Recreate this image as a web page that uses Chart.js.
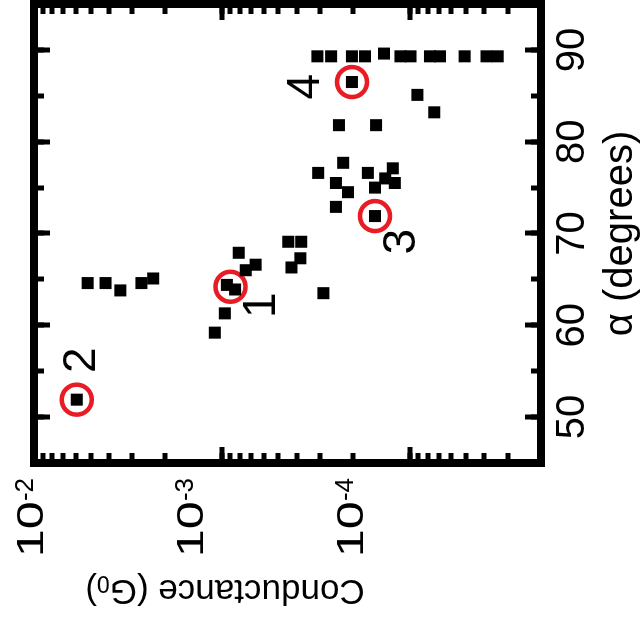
<!DOCTYPE html>
<html>
<head>
<meta charset="utf-8">
<script src="https://cdn.jsdelivr.net/npm/chart.js@4.4.1/dist/chart.umd.min.js"></script>
<style>
  html, body { margin: 0; padding: 0; background: #fff; }
  #stage { position: relative; width: 641px; height: 623px; overflow: hidden; background: #fff; }
  /* the plot is laid out with α along x and turned a quarter turn counter-clockwise */
  #turn { position: absolute; left: 9px; top: -9px; width: 623px; height: 641px;
          transform: rotate(-90deg); transform-origin: 50% 50%; }
  canvas { display: block; }
</style>
</head>
<body>
<div id="stage"><div id="turn"><canvas id="c" width="623" height="641"></canvas></div></div>
<script>
// Tilt angle α (degrees) and conductance (G0) of each junction
const alphaDeg = [
  89.3, 89.3, 89.3, 89.3, 89.6, 89.3, 89.3, 89.3, 89.3, 89.3, 89.3, 89.3,
  86.5, 85.1, 83.2, 81.8, 81.8,
  76.6, 77.7, 76.6, 77.1, 76.0, 75.5, 75.0, 75.5, 74.5, 72.9, 71.9,
  69.1, 69.1, 67.3, 66.3, 67.9, 66.6, 66.0, 64.4, 63.9, 63.5, 61.3, 59.2,
  64.6, 64.6, 63.8, 64.6, 65.1,
  51.9
];
const conductanceG0 = [
  3.10e-4, 2.62e-4, 2.03e-4, 1.73e-4, 1.37e-4, 1.12e-4, 9.9e-5, 7.8e-5, 6.9e-5, 5.1e-5, 3.9e-5, 3.4e-5,
  2.03e-4, 9.1e-5, 7.4e-5, 2.38e-4, 1.51e-4,
  3.07e-4, 2.26e-4, 1.67e-4, 1.23e-4, 1.35e-4, 1.20e-4, 1.53e-4, 2.47e-4, 2.13e-4, 2.47e-4, 1.53e-4,
  4.43e-4, 3.78e-4, 3.82e-4, 4.26e-4, 8.13e-4, 6.61e-4, 7.46e-4, 9.4e-4, 8.5e-4, 2.88e-4, 9.64e-4, 1.09e-3,
  5.18e-3, 4.16e-3, 3.47e-3, 2.68e-3, 2.32e-3,
  5.92e-3
];

// Highlighted junctions 1-4 (ringed) and where their numbers sit
const markedIds = ['1', '2', '3', '4'];
const markedAlpha = [64.2, 51.9, 71.9, 86.5];
const markedG = [9.0e-4, 5.92e-3, 1.53e-4, 2.03e-4];
const markLabelAlpha = [62.2, 56.2, 69.1, 86.0];
const markLabelG = [6.1e-4, 5.5e-3, 1.09e-4, 3.55e-4];

// Axis labelling
const alphaTickLabels = [50, 60, 70, 80, 90];
const conductanceTickLabels = [1e-2, 1e-3, 1e-4];

const FONT = "'Liberation Sans', Arial, Helvetica, sans-serif";
const BLACK = '#000';
const CLEAR = 'rgba(0,0,0,0)';
const RED = 'rgb(232, 28, 36)';
const A_MIN = 45, A_MAX = 95;
const G_MIN = 2e-5, G_MAX = 1e-2;

const isDecade = v => Math.abs(Math.log10(v) - Math.round(Math.log10(v))) < 1e-6;
// keep 1..9 x 10^n marks only (drop the 1.5 x 10^n marks)
const wholeSignificands = scale => {
  scale.ticks = scale.ticks.filter(t => {
    const m = t.value / Math.pow(10, Math.floor(Math.log10(t.value) + 1e-9));
    return Math.abs(m - Math.round(m)) < 1e-6;
  });
};
// fixed box sizes, no extra room for overhanging labels
const fixedSize = size => s => {
  if (s.isHorizontal()) s.height = size; else s.width = size;
  s.paddingLeft = s.paddingRight = s.paddingTop = s.paddingBottom = 0;
};

// inward tick marks on one side of the frame
function tickAxis(isLog, position, long, withBorder) {
  const cfg = {
    type: isLog ? 'logarithmic' : 'linear',
    position,
    min: isLog ? G_MIN : A_MIN,
    max: isLog ? G_MAX : A_MAX,
    weight: 0,
    afterFit: fixedSize(0),
    ticks: isLog ? { display: false } : { display: false, stepSize: 5 },
    grid: {
      display: true,
      drawOnChartArea: false,
      drawTicks: true,
      lineWidth: 8,
      tickLength: long ? -16 : -10,
      tickWidth: 5,
      tickColor: long
        ? (c => (c.tick && (isLog ? isDecade(c.tick.value) : c.tick.value % 10 === 0)) ? BLACK : CLEAR)
        : BLACK
    },
    border: { display: withBorder, width: 8, color: BLACK }
  };
  if (isLog) cfg.afterBuildTicks = wholeSignificands;
  return cfg;
}

const textPlugin = {
  id: 'figureText',
  afterDraw(chart) {
    const { ctx, scales } = chart;
    ctx.save();
    ctx.fillStyle = BLACK;

    // conductance decade labels, 10 with a raised exponent
    const lab = scales.yLab;
    conductanceTickLabels.forEach(v => {
      const p = lab.getPixelForValue(v);
      const exp = String(Math.round(Math.log10(v)));
      ctx.font = `36px ${FONT}`;
      const baseW = ctx.measureText('10').width * 1.4;
      ctx.font = `26px ${FONT}`;
      const expW = ctx.measureText(exp).width;
      const right = lab.right - 15;
      const x0 = right - expW - baseW;
      ctx.textAlign = 'left';
      ctx.textBaseline = 'alphabetic';
      ctx.save();
      ctx.translate(x0, p + 13);
      ctx.scale(1.4, 1);
      ctx.font = `36px ${FONT}`;
      ctx.fillText('10', 0, 0);
      ctx.restore();
      ctx.font = `26px ${FONT}`;
      ctx.fillText(exp, x0 + baseW, p + 3);
    });

    // conductance axis title with subscript G0
    ctx.save();
    ctx.translate(33, 225);
    ctx.rotate(-Math.PI / 2);
    ctx.textBaseline = 'middle';
    ctx.textAlign = 'left';
    const partA = 'Conductance (G', partB = '0', partC = ')';
    ctx.font = `35px ${FONT}`;
    const wa = ctx.measureText(partA).width, wc = ctx.measureText(partC).width;
    ctx.font = `23px ${FONT}`;
    const wb = ctx.measureText(partB).width;
    const start = -(wa + wb + wc) / 2;
    ctx.font = `35px ${FONT}`;
    ctx.fillText(partA, start, 0);
    ctx.font = `23px ${FONT}`;
    ctx.fillText(partB, start + wa, 8);
    ctx.font = `35px ${FONT}`;
    ctx.fillText(partC, start + wa + wb, 0);
    ctx.restore();

    // junction numbers
    ctx.font = `46px ${FONT}`;
    ctx.textAlign = 'center';
    ctx.textBaseline = 'middle';
    markedIds.forEach((t, i) => {
      ctx.fillText(t, scales.x.getPixelForValue(markLabelAlpha[i]), scales.y.getPixelForValue(markLabelG[i]));
    });
    ctx.restore();
  }
};

const points = alphaDeg.map((a, i) => ({ x: a, y: conductanceG0[i] }));
const rings = markedAlpha.map((a, i) => ({ x: a, y: markedG[i] }));

new Chart(document.getElementById('c'), {
  type: 'scatter',
  data: {
    datasets: [
      {
        data: points, xAxisID: 'x', yAxisID: 'y',
        pointStyle: 'rect', pointRadius: 8.5, pointBorderWidth: 0,
        backgroundColor: BLACK, borderColor: BLACK, borderWidth: 0
      },
      {
        data: rings, xAxisID: 'x', yAxisID: 'y',
        pointStyle: 'circle', pointRadius: 15, pointBorderWidth: 4.5,
        backgroundColor: CLEAR, borderColor: RED, borderWidth: 4.5
      }
    ]
  },
  options: {
    responsive: false,
    devicePixelRatio: 1,
    animation: false,
    events: [],
    layout: { autoPadding: false, padding: { left: 0, right: 4, top: 34, bottom: 0 } },
    plugins: { legend: { display: false }, tooltip: { enabled: false } },
    scales: {
      x: tickAxis(false, 'bottom', true, true),
      xMinor: tickAxis(false, 'bottom', false, false),
      xTop: tickAxis(false, 'top', true, true),
      xTopMinor: tickAxis(false, 'top', false, false),
      y: tickAxis(true, 'left', true, true),
      yMinor: tickAxis(true, 'left', false, false),
      yRight: tickAxis(true, 'right', true, true),
      yRightMinor: tickAxis(true, 'right', false, false),
      xLab: {
        type: 'linear', position: 'bottom', weight: 5, min: A_MIN, max: A_MAX,
        afterFit: fixedSize(100),
        grid: { display: false, drawTicks: false },
        border: { display: false },
        ticks: {
          stepSize: 5, autoSkip: false, maxRotation: 0, minRotation: 0, padding: 8,
          color: BLACK, font: { family: FONT, size: 40 },
          callback: v => alphaTickLabels.includes(v) ? String(v) : ''
        },
        title: { display: true, text: 'α (degrees)', color: BLACK,
                 font: { family: FONT, size: 40, lineHeight: 1 }, padding: 0 }
      },
      yLab: {
        type: 'logarithmic', position: 'left', weight: 5, min: 6.4e-6, max: 9.441e-3,
        afterFit: fixedSize(160),
        grid: { display: false, drawTicks: false },
        border: { display: false },
        ticks: { display: false }
      }
    }
  },
  plugins: [textPlugin]
});
</script>
</body>
</html>
